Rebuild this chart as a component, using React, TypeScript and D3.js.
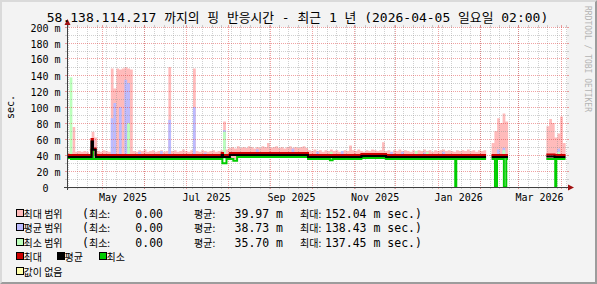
import React from "react";
import * as d3 from "d3";

// ---------- data ----------
const T_START = "2025-04-05T02:00";
const T_END = "2026-04-05T02:00";
const BIN_DAYS = 2;

const Y_VALUES = [0, 20, 40, 60, 80, 100, 120, 140, 160, 180, 200];
const Y_LABELS = ["0  ", "20 m", "40 m", "60 m", "80 m", "100 m", "120 m", "140 m", "160 m", "180 m", "200 m"];
const X_LABEL_MONTHS = ["2025-05-01", "2025-07-01", "2025-09-01", "2025-11-01", "2026-01-01", "2026-03-01"];
const X_LABELS = ["May 2025", "Jul 2025", "Sep 2025", "Nov 2025", "Jan 2026", "Mar 2026"];

// top of the "max range" band, one value per 2-day bin from T_START (null = no data)
const MAX_RANGE_TOP: (number | null)[] = [
  43, 44, 75, 44, 45, 44, 45, 44, 46, 69,
  62, 45, 44, 46, 45, 44, 148, 123, 148, 147,
  148, 150, 148, 147, 45, 44, 46, 45, 47, 44,
  45, 46, 44, 45, 46, 44, 45, 150, 45, 46,
  44, 45, 47, 45, 44, 46, 148, 45, 44, 46,
  45, 44, 45, 46, 44, 45, 46, 82, 47, 49,
  50, 48, 51, 49, 50, 49, 51, 50, 48, 50,
  49, 51, 50, 55, 49, 50, 51, 49, 50, 48,
  50, 51, 49, 50, 49, 50, 51, 49, 46, 45,
  47, 45, 46, 44, 46, 45, 47, 45, 46, 44,
  45, 46, 45, 52, 46, 45, 47, 45, 44, 46,
  45, 47, 46, 45, 46, 56, 45, 46, 44, 46,
  45, 47, 45, 46, 45, 44, 46, 45, 46, 45,
  47, 45, 46, 44, 46, 45, 46, 47, 45, 46,
  45, 44, 46, 45, 46, 45, 47, 45, 46, 44,
  46, 45, 46, null, null, 55, 70, 86, 80, 92,
  82, null, null, null, null, null, null, null, null, null,
  null, null, null, null, null, 76, 85, 80, 62, 67,
  88, 55, null,
];

// avg range peaks [bin start date, top]
const AVG_RANGE_PEAKS: [string, number][] = [
  ["2025-04-23", 60], ["2025-05-07", 86], ["2025-05-09", 105], ["2025-05-13", 100],
  ["2025-05-17", 134], ["2025-05-19", 130], ["2025-05-27", 44], ["2025-06-12", 45],
  ["2025-06-18", 84], ["2025-07-06", 100], ["2025-07-14", 43], ["2025-07-28", 71],
  ["2025-08-21", 47], ["2025-09-16", 48], ["2025-10-04", 44], ["2025-10-22", 45],
  ["2025-11-27", 44], ["2025-12-05", 44], ["2025-12-21", 43], ["2026-01-04", 44],
  ["2026-02-13", 47], ["2026-02-17", 49], ["2026-03-29", 48],
];

// min range peaks [bin start date, top]
const MIN_RANGE_PEAKS: [string, number][] = [
  ["2025-04-07", 137], ["2025-05-19", 80], ["2025-07-28", 69], ["2025-10-14", 44],
  ["2025-12-15", 45], ["2025-12-23", 44], ["2026-02-17", 46], ["2026-03-29", 44],
];

// step lines: [from date, value] (null = no data)
const MAX_LINE: [string, number | null][] = [
  ["2025-04-05T02:00", 40], ["2025-04-23", 60], ["2025-04-24", 48], ["2025-04-26", 40],
  ["2025-07-27", 42.5], ["2025-07-28", 40], ["2025-08-02", 42.5], ["2025-09-28", 40],
  ["2025-11-06", 41.25], ["2025-11-24", 40], ["2026-02-05", null], ["2026-02-09", 40],
  ["2026-02-21", null], ["2026-03-21", 40.6], ["2026-03-27", 40], ["2026-04-04", null],
];
const AVG_LINE: [string, number | null][] = [
  ["2025-04-05T02:00", 37.5], ["2025-04-23", 57], ["2025-04-24", 46.5], ["2025-04-26", 37.5],
  ["2025-07-27", 40], ["2025-07-28", 37.5], ["2025-08-02", 40], ["2025-09-28", 37.5],
  ["2025-11-06", 38.75], ["2025-11-24", 37.5], ["2026-02-05", null], ["2026-02-09", 37.5],
  ["2026-02-21", null], ["2026-03-21", 38.1], ["2026-03-27", 37.5], ["2026-04-04", null],
];
const MIN_LINE: [string, number | null][] = [
  ["2025-04-05T02:00", 36.25], ["2025-04-08", 35], ["2025-04-23", 47], ["2025-04-24", 35],
  ["2025-07-27T12:00", 29.6], ["2025-07-30T12:00", 35], ["2025-08-04T12:00", 32.9], ["2025-08-07T06:00", 37.5],
  ["2025-09-28", 35], ["2025-10-14", 33.5], ["2025-10-16", 35], ["2025-11-06", 36.25],
  ["2025-11-24", 35], ["2026-01-13T12:00", 0], ["2026-01-14T06:00", 35], ["2026-02-05", null],
  ["2026-02-09", 35], ["2026-02-11T12:00", 0], ["2026-02-13T00:00", 35], ["2026-02-18T00:00", 0],
  ["2026-02-19T18:00", 35], ["2026-02-21", null], ["2026-03-21", 35], ["2026-03-27T12:00", 0],
  ["2026-03-28T06:00", 35], ["2026-04-04", null],
];

const RANGE_LABELS = ["최대 범위", "평균 범위", "최소 범위"];
const RANGE_MIN = ["0.00", "0.00", "0.00"];
const RANGE_AVG = ["39.97", "38.73", "35.70"];
const RANGE_MAX = ["152.04", "138.43", "137.45"];
const LINE_LABELS = ["최대", "평균", "최소"];
const NODATA_LABEL = "값이 없음";

// ---------- styles ----------
const C = {
  back: "#F3F3F3",
  shadeA: "#DADADA",
  shadeB: "#9C9C9C",
  pink: "#FFBBBB",
  blue: "#BBBBFF",
  green: "#BBFFBB",
  red: "#CC0000",
  black: "#000000",
  lgreen: "#00CC00",
  yellow: "#FFFFAA",
  grid: "rgba(143,143,143,0.42)",
  mgrid: "rgba(222,48,48,0.45)",
  axis: "#404040",
  arrow: "#A01010",
  font: "#000000",
};
const MONO = "'DejaVu Sans Mono', monospace";
const KR = "'Noto Sans CJK KR', sans-serif";

const toDate = (s: string) => new Date(s.length > 10 ? s + ":00Z" : s + "T00:00:00Z");
const DAY = 864e5;

export default function App() {
  const W = 597, H = 284;
  const X0 = 67, X1 = 567, Y0 = 187, Y1 = 27;
  const t0 = toDate(T_START), t1 = toDate(T_END);
  const x = d3.scaleUtc().domain([t0, t1]).range([X0, X1]);
  const y = d3.scaleLinear().domain([0, 200]).range([Y0, Y1]);

  const baseSteps = MIN_LINE.filter(([, v]) => v != null && (v as number) > 34).map(([d, v]) => [toDate(d), v as number] as [Date, number]);
  const baseAt = (t: Date) => {
    let v = 35;
    for (const [d, val] of baseSteps) if (d <= t) v = val;
    return v;
  };
  const binBase = (a: Date, b: Date) => Math.max(baseAt(a), baseAt(new Date(b.getTime() - 1)));

  type P = { t: Date; v: number | null; b: number };
  const pinkPts: P[] = [];
  MAX_RANGE_TOP.forEach((v, i) => {
    const a = new Date(t0.getTime() + i * BIN_DAYS * DAY);
    const b = new Date(Math.min(a.getTime() + BIN_DAYS * DAY, t1.getTime()));
    if (v == null) { pinkPts.push({ t: a, v: null, b: 0 }); return; }
    const base = binBase(a, b);
    pinkPts.push({ t: a, v, b: base }, { t: b, v, b: base });
  });
  const area = d3.area<P>().defined((d) => d.v != null).x((d) => x(d.t)).y0((d) => y(d.b)).y1((d) => y(d.v as number));

  const peakRects = (peaks: [string, number][], color: string) =>
    peaks.map(([d, v], i) => {
      const a = toDate(d);
      const b = new Date(a.getTime() + BIN_DAYS * DAY);
      const base = binBase(a, b);
      return <rect key={i} x={x(a)} width={x(b) - x(a)} y={y(v)} height={y(base) - y(v)} fill={color} />;
    });

  type L = { t: Date; v: number | null };
  const stepPts = (steps: [string, number | null][]) => {
    const pts: L[] = [];
    steps.forEach(([d, v], k) => {
      const a = toDate(d);
      if (v == null) { pts.push({ t: a, v: null }); return; }
      const nxt = steps[k + 1];
      const b = nxt ? toDate(nxt[0]) : t1;
      pts.push({ t: a, v }, { t: b, v });
    });
    return pts;
  };
  const line = d3.line<L>().defined((d) => d.v != null).x((d) => x(d.t)).y((d) => y(d.v as number));

  const px = (v: number) => Math.floor(v) + 0.5;

  // grid
  const weeks = d3.utcSunday.range(t0, t1);
  const months = d3.utcMonth.range(t0, t1);
  const yMinor = d3.range(10, 200, 20);
  const yMajor = Y_VALUES.filter((v) => v > 0);

  const rowTops = [209, 223, 238, 252, 267];
  const KRT = 12.8;

  return (
    <svg width={W} height={H} style={{ position: "absolute", left: 0, top: 0, display: "block" }}>
      {/* background & frame */}
      <rect width={W} height={H} fill={C.back} />
      <polygon points={`0,0 ${W},0 ${W - 2},2 2,2 2,${H - 2} 0,${H}`} fill={C.shadeA} />
      <polygon points={`${W},0 ${W},${H} 0,${H} 2,${H - 2} ${W - 2},${H - 2} ${W - 2},2`} fill={C.shadeB} />
      <rect x={X0} y={Y1} width={X1 - X0} height={Y0 - Y1} fill="#FFFFFF" />

      {/* data areas */}
      <path d={area(pinkPts) || ""} fill={C.pink} />
      {peakRects(AVG_RANGE_PEAKS, C.blue)}
      {peakRects(MIN_RANGE_PEAKS, C.green)}

      {/* grid */}
      <g shapeRendering="crispEdges">
        {yMinor.map((v) => (
          <g key={"ym" + v}>
            <line x1={X0 - 2} x2={X0} y1={px(y(v))} y2={px(y(v))} stroke={C.grid} />
            <line x1={X1} x2={X1 + 2} y1={px(y(v))} y2={px(y(v))} stroke={C.grid} />
            <line x1={X0} x2={X1} y1={px(y(v))} y2={px(y(v))} stroke={C.grid} strokeDasharray="1,1" />
          </g>
        ))}
        {weeks.map((w, i) => (
          <g key={"xw" + i}>
            <line x1={px(x(w))} x2={px(x(w))} y1={Y1 - 2} y2={Y1} stroke={C.grid} />
            <line x1={px(x(w))} x2={px(x(w))} y1={Y0} y2={Y0 + 2} stroke={C.grid} />
            <line x1={px(x(w))} x2={px(x(w))} y1={Y1} y2={Y0} stroke={C.grid} strokeDasharray="1,1" />
          </g>
        ))}
        {yMajor.map((v) => (
          <g key={"yM" + v}>
            <line x1={X0 - 2} x2={X0} y1={px(y(v))} y2={px(y(v))} stroke={C.mgrid} />
            <line x1={X1} x2={X1 + 2} y1={px(y(v))} y2={px(y(v))} stroke={C.mgrid} />
            <line x1={X0} x2={X1} y1={px(y(v))} y2={px(y(v))} stroke={C.mgrid} strokeDasharray="1,1" />
          </g>
        ))}
        {months.map((m, i) => (
          <g key={"xM" + i}>
            <line x1={px(x(m))} x2={px(x(m))} y1={Y1 - 2} y2={Y1} stroke={C.mgrid} />
            <line x1={px(x(m))} x2={px(x(m))} y1={Y0} y2={Y0 + 2} stroke={C.mgrid} />
            <line x1={px(x(m))} x2={px(x(m))} y1={Y1} y2={Y0} stroke={C.mgrid} strokeDasharray="1,1" />
          </g>
        ))}
      </g>

      {/* lines */}
      <path d={line(stepPts(MIN_LINE)) || ""} fill="none" stroke={C.lgreen} strokeWidth={2} />
      <path d={line(stepPts(MAX_LINE)) || ""} fill="none" stroke={C.red} strokeWidth={2} />
      <path d={line(stepPts(AVG_LINE)) || ""} fill="none" stroke={C.black} strokeWidth={2} />

      {/* axes */}
      <g shapeRendering="crispEdges">
        <line x1={X0 + 0.5} x2={X0 + 0.5} y1={Y0 + 3} y2={Y1 - 4} stroke={C.axis} />
        <line x1={X0 - 3} x2={X1 + 4} y1={Y0 + 0.5} y2={Y0 + 0.5} stroke={C.axis} />
      </g>
      <polygon points={`${X0 + 0.5},${Y1 - 8} ${X0 - 2.5},${Y1 - 2} ${X0 + 3.5},${Y1 - 2}`} fill={C.arrow} />
      <polygon points={`${X1 + 7},${Y0 + 0.5} ${X1 + 1},${Y0 - 2.5} ${X1 + 1},${Y0 + 3.5}`} fill={C.arrow} />

      {/* axis labels */}
      <g fontFamily={MONO} fontSize={10} fill={C.font}>
        {Y_VALUES.map((v, i) => (
          <text key={"yl" + v} x={60.5} y={px(y(v)) + 4} textAnchor="end" style={{ whiteSpace: "pre" }}>{Y_LABELS[i]}</text>
        ))}
        {X_LABEL_MONTHS.map((m, i) => (
          <text key={"xl" + i} x={x(new Date(toDate(m).getTime() + 15 * DAY))} y={200.5} textAnchor="middle">{X_LABELS[i]}</text>
        ))}
        <text transform="translate(14,107) rotate(-90)" textAnchor="middle">sec.</text>
      </g>

      {/* title */}
      <text x={297.5} y={21.5} textAnchor="middle" fontFamily={MONO} fontSize={13} fill={C.font} style={{ whiteSpace: "pre" }}>
        <tspan>58.138.114.217 </tspan>
        <tspan fontFamily={KR} fontSize={KRT}>까지의</tspan>
        <tspan> </tspan>
        <tspan fontFamily={KR} fontSize={KRT}>핑</tspan>
        <tspan> </tspan>
        <tspan fontFamily={KR} fontSize={KRT}>반응시간</tspan>
        <tspan> - </tspan>
        <tspan fontFamily={KR} fontSize={KRT}>최근</tspan>
        <tspan> 1 </tspan>
        <tspan fontFamily={KR} fontSize={KRT}>년</tspan>
        <tspan> (2026-04-05 </tspan>
        <tspan fontFamily={KR} fontSize={KRT}>일요일</tspan>
        <tspan> 02:00)</tspan>
      </text>

      {/* watermark */}
      <text transform="translate(585,6) rotate(90)" fontFamily={MONO} fontSize={8} fill="#B4B4B4">RRDTOOL / TOBI OETIKER</text>

      {/* legend */}
      <g fontFamily={MONO} fontSize={11.5} fill={C.font} style={{ whiteSpace: "pre" }}>
        {RANGE_LABELS.map((lab, i) => {
          const top = rowTops[i];
          const bl = top + 8.5;
          const col = [C.pink, C.blue, C.green][i];
          return (
            <g key={"lr" + i}>
              <rect x={16.5} y={top + 0.5} width={7} height={7} fill={col} stroke="#000" />
              <text x={23.5} y={bl} fontFamily={KR} fontSize={10}>{lab}</text>
              <text x={82} y={bl}>(<tspan fontFamily={KR} fontSize={10}>최소:</tspan></text>
              <text x={163} y={bl} textAnchor="end">{RANGE_MIN[i]}</text>
              <text x={194} y={bl} fontFamily={KR} fontSize={10}>평균:</text>
              <text x={283} y={bl} textAnchor="end">{RANGE_AVG[i] + " m"}</text>
              <text x={300} y={bl} fontFamily={KR} fontSize={10}>최대:</text>
              <text x={325} y={bl}>{RANGE_MAX[i] + " m sec.)"}</text>
            </g>
          );
        })}
        {LINE_LABELS.map((lab, i) => {
          const top = rowTops[3];
          const bx = [16.5, 57.5, 99.5][i];
          const col = [C.red, C.black, C.lgreen][i];
          return (
            <g key={"ll" + i}>
              <rect x={bx} y={top + 0.5} width={7} height={7} fill={col} stroke="#000" />
              <text x={bx + 7} y={top + 8.5} fontFamily={KR} fontSize={10}>{lab}</text>
            </g>
          );
        })}
        <rect x={16.5} y={rowTops[4] + 0.5} width={7} height={7} fill={C.yellow} stroke="#000" />
        <text x={23.5} y={rowTops[4] + 8.5} fontFamily={KR} fontSize={10}>{NODATA_LABEL}</text>
      </g>
    </svg>
  );
}
